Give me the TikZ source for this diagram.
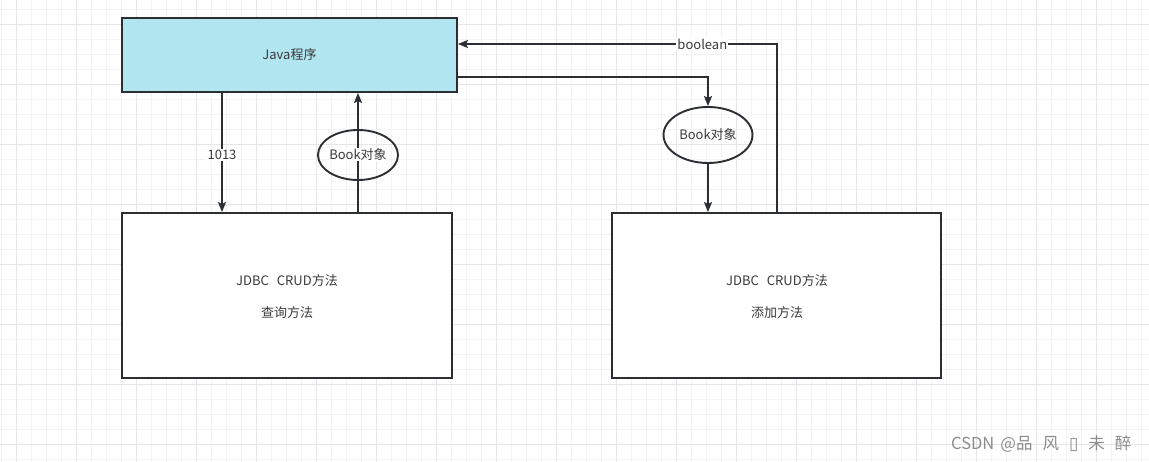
\documentclass[tikz,border=0pt]{standalone}
\usepackage{fontspec}
\setmainfont{Noto Sans CJK SC}
\newfontfamily\symfont{DejaVu Sans}
\usetikzlibrary{shapes.geometric,arrows.meta}
\definecolor{javafill}{HTML}{B1E6F0}
\definecolor{edgecol}{HTML}{2B2F33}
\definecolor{txtcol}{HTML}{3A3A3A}
\definecolor{gridminor}{HTML}{F3F3F3}
\definecolor{gridmajor}{HTML}{E6E6E6}
\definecolor{wmcol}{HTML}{8C8C8C}
\tikzset{
  box/.style={draw=edgecol,line width=1.9pt,rectangle,inner sep=0pt,font=\fontsize{13}{15}\selectfont,text=txtcol},
  oval/.style={draw=edgecol,line width=1.9pt,ellipse,inner sep=0pt},
  arr/.style={draw=edgecol,line width=1.9pt,-{Stealth[length=10pt,width=8pt,inset=2pt]}},
  lbl/.style={fill=white,inner sep=1.5pt,text=txtcol,font=\fontsize{13}{15}\selectfont},
  txt/.style={text=txtcol,font=\fontsize{13}{15}\selectfont,inner sep=0pt}
}
\begin{document}
\begin{tikzpicture}[x=1pt,y=-1pt]
\useasboundingbox (0,0) rectangle (1149,462);
\fill[white] (0,0) rectangle (1149,462);
% grid
\foreach \i in {0,...,76} {\draw[gridminor,line width=0.8pt] ({1+15*\i},0) -- ({1+15*\i},462);}
\foreach \i in {0,...,30} {\draw[gridminor,line width=0.8pt] (0,{9+15*\i}) -- (1149,{9+15*\i});}
\foreach \i in {0,...,18} {\draw[gridmajor,line width=0.8pt] ({16+60*\i},0) -- ({16+60*\i},462);}
\foreach \i in {0,...,7} {\draw[gridmajor,line width=0.8pt] (0,{24+60*\i}) -- (1149,{24+60*\i});}
% nodes
\node[box,fill=javafill,minimum width=335pt,minimum height=74pt] (java) at (289.5,55) {Java程序};
\node[box,fill=white,minimum width=330pt,minimum height=165pt] (q) at (287,295.5) {};
\node[box,fill=white,minimum width=329pt,minimum height=165pt] (a) at (776.5,295.5) {};
\node[txt] (q1) at (287,281) {JDBC\hspace{8pt}CRUD方法};
\node[txt] (q2) at (287,313) {查询方法};
\node[txt] (a1) at (777,281) {JDBC\hspace{8pt}CRUD方法};
\node[txt] (a2) at (777,313) {添加方法};
\coordinate (k1013) at (222,0);
\coordinate (kup) at (358,0);
\coordinate (k77) at (0,77);
\coordinate (k44) at (0,44);
\coordinate (k777) at (777,0);
% connectors
\draw[arr] (java.south -| k1013) -- node[lbl,pos=0.52]{1013} (q.north -| k1013);
\draw[arr] (q.north -| kup) -- (java.south -| kup);
\node[oval,minimum width=80pt,minimum height=50pt] (e1) at (358,155) {};
\node[lbl,inner sep=0.5pt] (e1t) at (e1) {Book对象};
\node[oval,minimum width=89pt,minimum height=56pt] (e2) at (708,135) {};
\node[txt] (e2t) at (e2) {Book对象};
\draw[arr] (java.east |- k77) -| (e2.north);
\draw[arr] (e2.south) -- (a.north -| e2.south);
\draw[arr] (a.north -| k777) |- node[lbl,pos=0.617,inner sep=1pt]{boolean} (java.east |- k44);
% watermark
\node[text=wmcol,font=\fontsize{16.5}{18}\selectfont,inner sep=0pt,anchor=west] (wm) at (951,444) {CSDN\hspace{6pt}@品\hspace{10pt}风\hspace{10pt}{\symfont\fontsize{17}{18}\selectfont ▯}\hspace{10pt}未\hspace{10pt}醉};
\end{tikzpicture}
\end{document}
